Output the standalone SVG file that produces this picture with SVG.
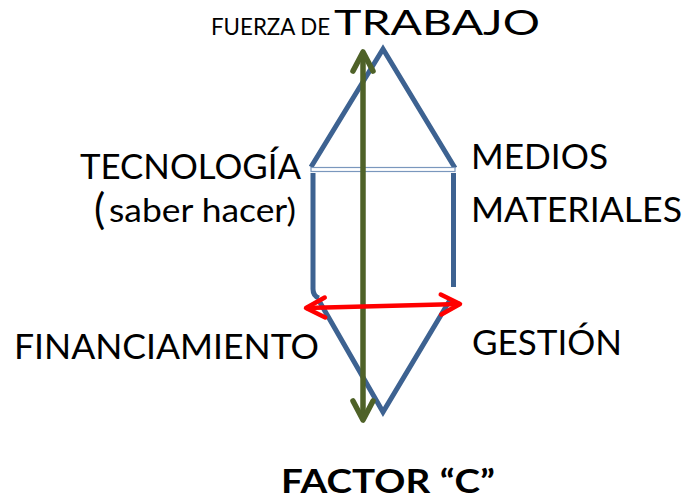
<svg xmlns="http://www.w3.org/2000/svg" width="687" height="503" viewBox="0 0 687 503">
<defs>
<style>
.lbl{font-family:Lato,"Open Sans","Liberation Sans",sans-serif;fill:#000;}
.blue{fill:none;stroke:#3d6291;stroke-width:5;stroke-linejoin:miter;}
.band{fill:#fff;stroke:#7a97bd;stroke-width:1.2;}
.green{fill:none;stroke:#4f6228;stroke-width:5.5;}
.red{fill:none;stroke:#ff0000;stroke-width:4.5;}
</style>
<marker id="ga" markerUnits="userSpaceOnUse" markerWidth="40" markerHeight="40" viewBox="-30 -20 40 40" refX="0" refY="0" orient="auto-start-reverse">
<path d="M-19,-10 L0,0 L-19,10" fill="none" stroke="#4f6228" stroke-width="5.5" stroke-linecap="round" stroke-linejoin="round"/>
</marker>
<marker id="ra" markerUnits="userSpaceOnUse" markerWidth="40" markerHeight="40" viewBox="-30 -20 40 40" refX="0" refY="0" orient="auto-start-reverse">
<path d="M-19,-10 L0,0 L-19,10" fill="none" stroke="#ff0000" stroke-width="4.5" stroke-linecap="round" stroke-linejoin="round"/>
</marker>
</defs>
<rect width="687" height="503" fill="#fff"/>

<g id="shape">
<path class="blue" d="M311,167 L383,49 L455,168"/>
<rect class="band" x="311" y="167.5" width="144" height="4"/>
<path class="blue" d="M313,173 V289 Q313,296 319,298"/>
<path class="blue" d="M453.5,173 V287"/>
<path class="blue" d="M318,299 L383,412 L450,300"/>
</g>

<g id="connectors">
<line class="green" x1="363" y1="52" x2="363" y2="420" marker-start="url(#ga)" marker-end="url(#ga)"/>
<line class="red" x1="306" y1="308" x2="460" y2="304" marker-start="url(#ra)" marker-end="url(#ra)"/>
</g>

<g id="fuerza">
<text class="lbl" x="211" y="35" font-size="22.3">FUERZA DE</text>
<text class="lbl" x="334" y="35" font-size="35" textLength="206" lengthAdjust="spacingAndGlyphs">TRABAJO</text>
</g>
<g id="tecnologia">
<text class="lbl" x="80" y="179" font-size="35" textLength="221" lengthAdjust="spacingAndGlyphs">TECNOLOGÍA</text>
<text class="lbl" x="94" y="224" font-size="42">(</text>
<text class="lbl" x="109" y="222" font-size="33" textLength="187" lengthAdjust="spacingAndGlyphs">saber hacer)</text>
</g>
<g id="medios">
<text class="lbl" x="471" y="168.5" font-size="35" textLength="137" lengthAdjust="spacingAndGlyphs">MEDIOS</text>
<text class="lbl" x="471" y="221.5" font-size="35" textLength="211" lengthAdjust="spacingAndGlyphs">MATERIALES</text>
</g>
<g id="financiamiento">
<text class="lbl" x="14" y="359" font-size="35" textLength="305" lengthAdjust="spacingAndGlyphs">FINANCIAMIENTO</text>
</g>
<g id="gestion">
<text class="lbl" x="472" y="355" font-size="35" textLength="150" lengthAdjust="spacingAndGlyphs">GESTIÓN</text>
</g>
<g id="factor">
<text class="lbl" x="281" y="493" font-size="33" font-weight="bold" textLength="214" lengthAdjust="spacingAndGlyphs">FACTOR “C”</text>
</g>
</svg>
